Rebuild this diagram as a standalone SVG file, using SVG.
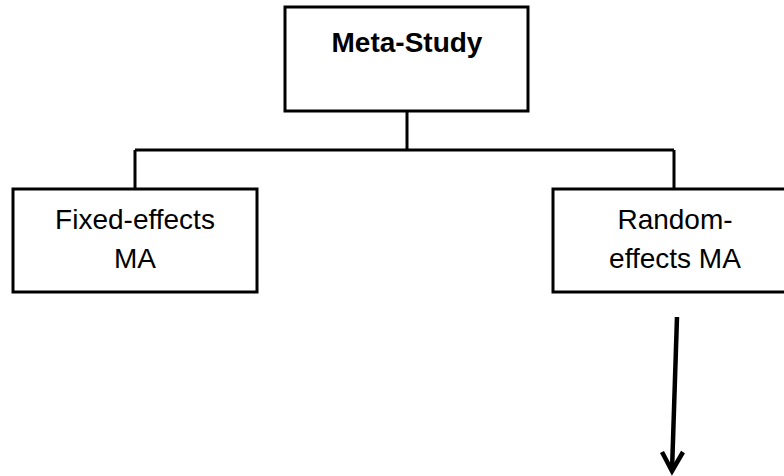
<svg xmlns="http://www.w3.org/2000/svg" width="784" height="476" viewBox="0 0 784 476">
<style>
.box{fill:#fff;stroke:#000;stroke-width:3}
.lbl{font-family:"Liberation Sans",Arial,sans-serif;font-size:28px;fill:#000;text-anchor:middle}
.b{font-weight:bold}
.con{fill:none;stroke:#000;stroke-width:3}
.arr{fill:none;stroke:#000;stroke-width:4.5}
</style>
<rect width="784" height="476" fill="#fff"/>
<g id="connectors">
<path class="con" d="M407,111 V150 M135,150 H674 M135,150 V189 M674,150 V189"/>
<path class="arr" d="M677,317 L672,471"/>
<path class="arr" d="M662,452 L672,471 L683,452"/>
</g>
<g id="meta-study">
<rect class="box" x="285" y="7" width="243" height="104"/>
<text class="lbl b" x="407" y="52">Meta-Study</text>
</g>
<g id="fixed-effects">
<rect class="box" x="13" y="189" width="244" height="103"/>
<text class="lbl" x="135" y="229">Fixed-effects</text>
<text class="lbl" x="135" y="268">MA</text>
</g>
<g id="random-effects">
<rect class="box" x="553" y="189" width="244" height="103"/>
<text class="lbl" x="675" y="229">Random-</text>
<text class="lbl" x="675" y="268">effects MA</text>
</g>
</svg>
